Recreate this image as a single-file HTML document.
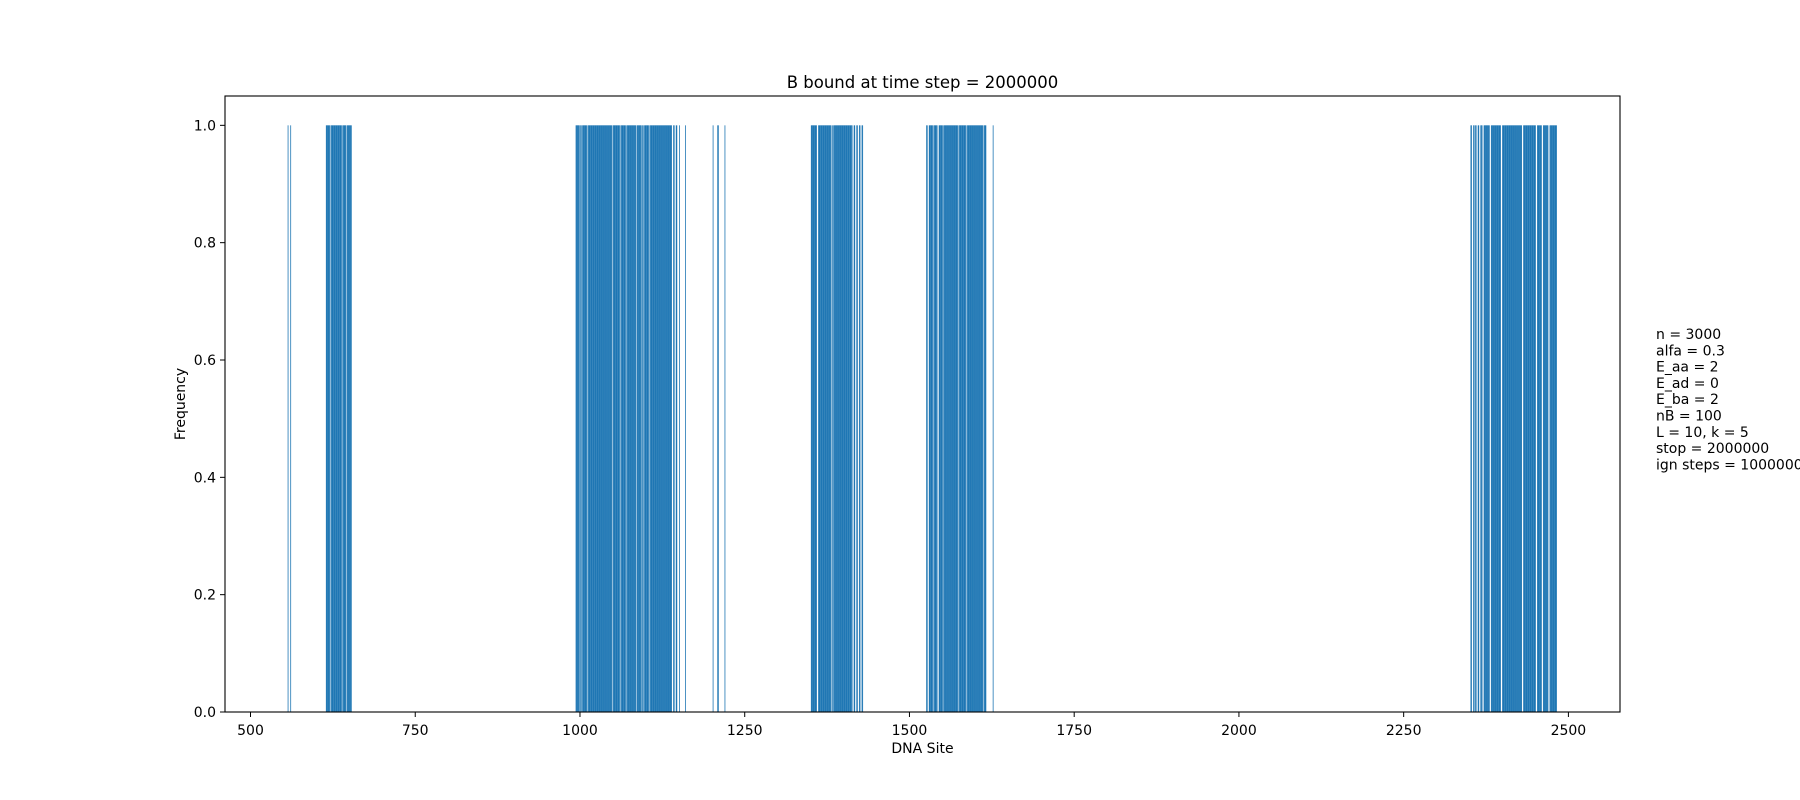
<!DOCTYPE html>
<html><head><meta charset="utf-8"><style>
body{margin:0;background:#fff;}
svg{display:block;font-family:"DejaVu Sans","Liberation Sans",sans-serif;}
</style></head><body>
<svg id="chart" width="1800" height="800">
<text x="922.5" y="88" font-size="16.5" text-anchor="middle">B bound at time step = 2000000</text>
<g id="bars"></g>
<rect x="225" y="96" width="1395" height="616" fill="none" stroke="#000" stroke-width="1.1"/>
<g id="xticks"></g>
<g id="yticks"></g>
<text x="922.5" y="753" font-size="14" text-anchor="middle">DNA Site</text>
<text transform="translate(185,404) rotate(-90)" font-size="14" text-anchor="middle">Frequency</text>
<g font-size="14">
<text x="1656" y="339">n = 3000</text>
<text x="1656" y="355.3">alfa = 0.3</text>
<text x="1656" y="371.6">E_aa = 2</text>
<text x="1656" y="387.9">E_ad = 0</text>
<text x="1656" y="404.2">E_ba = 2</text>
<text x="1656" y="420.5">nB = 100</text>
<text x="1656" y="436.8">L = 10, k = 5</text>
<text x="1656" y="453.1">stop = 2000000</text>
<text x="1656" y="469.4">ign steps = 1000000</text>
</g>
</svg>
<script>
// bound-site runs [start, end] (inclusive), each site has frequency 1
const runStarts = [557,561,615,622,640,647,994,1001,1004,1012,1050,1062,1071,1087,1095,1098,1106,1142,1146,1151,1160,1202,1209,1220,1351,1362,1383,1385,1416,1420,1424,1428,1526,1530,1537,1545,1552,1575,1588,1613,1627,2352,2356,2359,2363,2367,2372,2383,2400,2432,2453,2462,2472];
const runEnds   = [557,561,620,638,645,653,999,1002,1010,1048,1060,1069,1085,1093,1096,1104,1139,1143,1147,1151,1160,1202,1210,1220,1359,1381,1383,1413,1417,1421,1425,1429,1527,1535,1542,1550,1573,1586,1611,1616,1627,2353,2357,2360,2364,2369,2380,2397,2429,2450,2459,2469,2482];
const freqValue = 1;
const xTicks = [500,750,1000,1250,1500,1750,2000,2250,2500];
const yTicks = [0,0.2,0.4,0.6,0.8,1.0];
const yTickLabels = ["0.0","0.2","0.4","0.6","0.8","1.0"];

const NS="http://www.w3.org/2000/svg";
const L=225,R=1620,T=96,B=712;
const xMin=461.3,xMax=2578.3,yMax=1.05;
const xs=v=>L+(v-xMin)/(xMax-xMin)*(R-L);
const ys=v=>B-v/yMax*(B-T);
const bars=document.getElementById('bars');
for(let r=0;r<runStarts.length;r++){
  for(let s=runStarts[r];s<=runEnds[r];s++){
    const el=document.createElementNS(NS,'rect');
    el.setAttribute('x',xs(s-0.6));
    el.setAttribute('width',xs(s+0.6)-xs(s-0.6));
    el.setAttribute('y',ys(freqValue));
    el.setAttribute('height',ys(0)-ys(freqValue));
    el.setAttribute('fill','#1f77b4');
    
    
    bars.appendChild(el);
  }
}
const xg=document.getElementById('xticks');
xTicks.forEach(t=>{
  const x=xs(t);
  const ln=document.createElementNS(NS,'line');
  ln.setAttribute('x1',x);ln.setAttribute('x2',x);ln.setAttribute('y1',B);ln.setAttribute('y2',B+5);
  ln.setAttribute('stroke','#000');
  
  
  xg.appendChild(ln);
  const tx=document.createElementNS(NS,'text');
  tx.setAttribute('x',x);tx.setAttribute('y',B+23);tx.setAttribute('font-size','14');tx.setAttribute('text-anchor','middle');
  tx.textContent=t;
  
  
  xg.appendChild(tx);
});
const yg=document.getElementById('yticks');
yTicks.forEach((t,i)=>{
  const y=ys(t);
  const ln=document.createElementNS(NS,'line');
  ln.setAttribute('x1',L-5);ln.setAttribute('x2',L);ln.setAttribute('y1',y);ln.setAttribute('y2',y);
  ln.setAttribute('stroke','#000');
  
  
  yg.appendChild(ln);
  const tx=document.createElementNS(NS,'text');
  tx.setAttribute('x',L-9);tx.setAttribute('y',y+5);tx.setAttribute('font-size','14');tx.setAttribute('text-anchor','end');
  tx.textContent=yTickLabels[i];
  
  
  yg.appendChild(tx);
});
</script>
</body></html>
